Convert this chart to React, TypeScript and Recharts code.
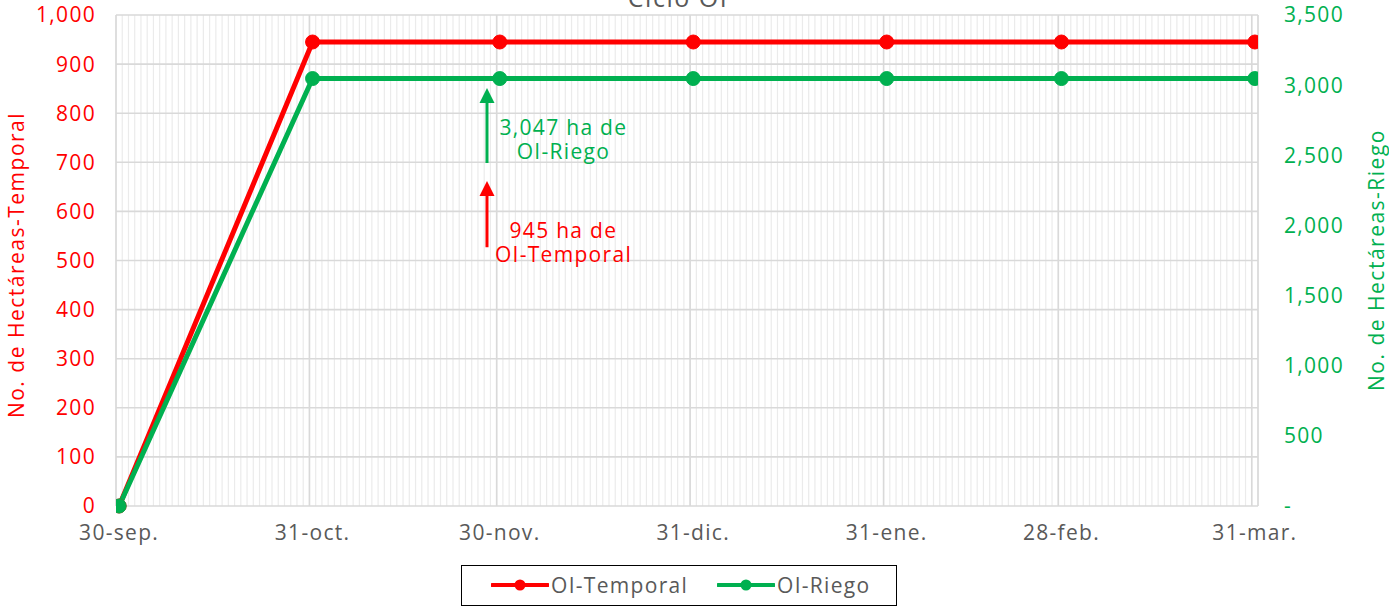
import React from 'react';
import { LineChart, Line, XAxis, YAxis, CartesianGrid, ReferenceLine, ReferenceDot, Customized } from 'recharts';

// ---- data ----
const dayOffsets = [0, 31, 61, 92, 123, 151, 182]; // days since 30-sep (start of each day slot)
const dateLabels = ['30-sep.', '31-oct.', '30-nov.', '31-dic.', '31-ene.', '28-feb.', '31-mar.'];
const temporalValues = [0, 945, 945, 945, 945, 945, 945];
const riegoValues = [0, 3047, 3047, 3047, 3047, 3047, 3047];
const leftTicks = [0, 100, 200, 300, 400, 500, 600, 700, 800, 900, 1000];
const rightTicks = [0, 500, 1000, 1500, 2000, 2500, 3000, 3500];
const totalDays = 183;
const minorDays = Array.from({ length: totalDays + 1 }, (_, i) => i);
const seriesNames = ['OI-Temporal', 'OI-Riego'];

const RED = '#FF0000';
const GREEN = '#00B050';
const GRAY_TEXT = '#595959';
const FONT = '"Open Sans", sans-serif';
const FS = 21;
const LS = 1.3;

const data = dayOffsets.map((d, i) => ({
  x: d + 0.5,
  temporal: temporalValues[i],
  riego: riegoValues[i],
}));
const labelPositions = dayOffsets.map((d) => d + 0.5);

const fmt = (v: number) => v.toLocaleString('en-US');

const makeArrow = (color: string) => (props: any) => {
  const { x1, y1, x2, y2 } = props;
  const top = Math.min(y1, y2);
  const bottom = Math.max(y1, y2);
  const x = (x1 + x2) / 2;
  const hh = 15;
  const hw = 15;
  return (
    <g>
      <line x1={x} x2={x} y1={bottom} y2={top + hh - 1} stroke={color} strokeWidth={3} />
      <polygon points={`${x},${top} ${x - hw / 2},${top + hh} ${x + hw / 2},${top + hh}`} fill={color} />
    </g>
  );
};

const makeText = (color: string, lines: string[]) => (props: any) => {
  const { cx, cy } = props;
  return (
    <text x={cx} y={cy} textAnchor="middle" fill={color} fontFamily={FONT} fontSize={FS} fontWeight={500} letterSpacing={LS}>
      {lines.map((l, i) => (
        <tspan key={i} x={cx} dy={i === 0 ? 0 : 24.5}>
          {l}
        </tspan>
      ))}
    </text>
  );
};

const Titles = () => (
  <g fontFamily={FONT}>
    <text x={678} y={7} textAnchor="middle" fill={GRAY_TEXT} fontSize={25} letterSpacing={1.5}>
      Ciclo OI
    </text>
    <text
      x={16}
      y={265}
      transform="rotate(-90 16 265)"
      textAnchor="middle"
      dominantBaseline="central"
      fill={RED}
      fontSize={FS}
      fontWeight={500}
      letterSpacing={1.5}
    >
      No. de Hectáreas-Temporal
    </text>
    <text
      x={1376}
      y={260}
      transform="rotate(-90 1376 260)"
      textAnchor="middle"
      dominantBaseline="central"
      fill={GREEN}
      fontSize={FS}
      fontWeight={500}
      letterSpacing={1.5}
    >
      No. de Hectáreas-Riego
    </text>
  </g>
);

const LegendBox = () => {
  const colors = [RED, GREEN];
  const lefts = [30, 256];
  return (
    <div
      style={{
        position: 'absolute',
        left: 461,
        top: 565,
        width: 436,
        height: 41,
        boxSizing: 'border-box',
        border: '1.5px solid #000',
        background: '#fff',
        fontFamily: FONT,
      }}
    >
      {seriesNames.map((n, i) => (
        <div
          key={n}
          style={{ position: 'absolute', left: lefts[i] - 1, top: 0, height: 38, display: 'flex', alignItems: 'center' }}
        >
          <svg width={58} height={14} style={{ display: 'block' }}>
            <line x1={1} x2={57} y1={7} y2={7} stroke={colors[i]} strokeWidth={4} strokeLinecap="round" />
            <circle cx={29} cy={7} r={5.5} fill={colors[i]} />
          </svg>
          <span style={{ fontSize: FS, color: GRAY_TEXT, letterSpacing: LS, marginLeft: 2, lineHeight: '24px' }}>{n}</span>
        </div>
      ))}
    </div>
  );
};

export default function App() {
  return (
    <div style={{ position: 'absolute', left: 0, top: 0, width: 1389, height: 606, overflow: 'hidden', background: '#fff' }}>
      <LineChart width={1389} height={606} data={data} margin={{ top: 15, right: 0, bottom: 40, left: 0 }}>
        <XAxis
          dataKey="x"
          type="number"
          domain={[0, totalDays]}
          ticks={labelPositions}
          interval={0}
          allowDataOverflow
          tickFormatter={(v: number) => dateLabels[labelPositions.indexOf(v)] ?? ''}
          axisLine={false}
          tickLine={false}
          tickSize={0}
          tickMargin={19}
          height={60}
          tick={{ fill: GRAY_TEXT, fontSize: FS, fontFamily: FONT, letterSpacing: LS }}
        />
        <XAxis xAxisId="minor" dataKey="x" type="number" domain={[0, totalDays]} ticks={minorDays} interval={0} hide />
        <XAxis xAxisId="major" dataKey="x" type="number" domain={[0, totalDays]} ticks={dayOffsets} interval={0} hide />
        <YAxis
          yAxisId="left"
          domain={[0, 1000]}
          ticks={leftTicks}
          interval={0}
          width={116}
          axisLine={false}
          tickLine={false}
          tickSize={0}
          tickMargin={20}
          tickFormatter={(v: number) => fmt(v)}
          tick={{ fill: RED, fontSize: FS, fontFamily: FONT, fontWeight: 500, letterSpacing: LS }}
        />
        <YAxis
          yAxisId="right"
          orientation="right"
          domain={[0, 3500]}
          ticks={rightTicks}
          interval={0}
          width={131}
          axisLine={false}
          tickLine={false}
          tickSize={0}
          tickMargin={26}
          tickFormatter={(v: number) => (v === 0 ? '-' : fmt(v))}
          tick={{ fill: GREEN, fontSize: FS, fontFamily: FONT, fontWeight: 500, letterSpacing: LS, textAnchor: 'start' }}
        />
        <CartesianGrid xAxisId="minor" yAxisId="left" horizontal={false} stroke="#ebebeb" strokeWidth={1.2} />
        <CartesianGrid xAxisId="major" yAxisId="left" stroke="#d9d9d9" strokeWidth={1.6} />
        <Line
          yAxisId="left"
          dataKey="temporal"
          name={seriesNames[0]}
          stroke={RED}
          strokeWidth={5}
          dot={{ r: 7, fill: RED, stroke: RED, strokeWidth: 1 }}
          activeDot={false}
          isAnimationActive={false}
        />
        <Line
          yAxisId="right"
          dataKey="riego"
          name={seriesNames[1]}
          stroke={GREEN}
          strokeWidth={5}
          dot={{ r: 7, fill: GREEN, stroke: GREEN, strokeWidth: 1 }}
          activeDot={false}
          isAnimationActive={false}
        />
        <ReferenceLine
          yAxisId="right"
          segment={[
            { x: 59.45, y: 2445 },
            { x: 59.45, y: 2980 },
          ]}
          shape={makeArrow(GREEN)}
        />
        <ReferenceLine
          yAxisId="left"
          segment={[
            { x: 59.45, y: 527 },
            { x: 59.45, y: 662 },
          ]}
          shape={makeArrow(RED)}
        />
        <ReferenceDot
          yAxisId="right"
          x={71.7}
          y={2645}
          r={0}
          shape={makeText(GREEN, [`${fmt(riegoValues[1])} ha de`, seriesNames[1]])}
        />
        <ReferenceDot
          yAxisId="left"
          x={71.7}
          y={546}
          r={0}
          shape={makeText(RED, [`${fmt(temporalValues[1])} ha de`, seriesNames[0]])}
        />
        <Customized component={Titles} />
      </LineChart>
      <LegendBox />
    </div>
  );
}
